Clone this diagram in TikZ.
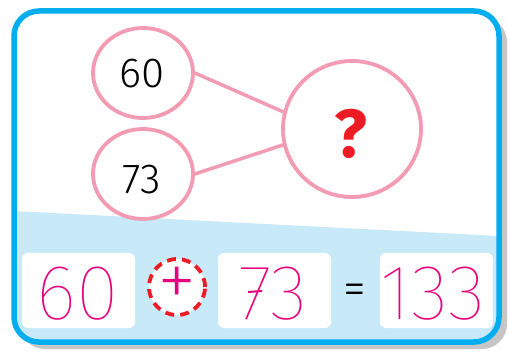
\documentclass[tikz,border=0pt]{standalone}
\usepackage{fontspec}
\setmainfont{Fira Sans}
\newfontfamily\thinf{Fira Sans Thin}
\newfontfamily\xlightf{Fira Sans ExtraLight}
\newfontfamily\lightf{Fira Sans Light}
\newfontfamily\boldf{Fira Sans Bold}
\usetikzlibrary{shapes.geometric}
\definecolor{frameblue}{HTML}{00AEEF}
\definecolor{lightbg}{HTML}{C8E9F8}
\definecolor{pinkc}{HTML}{F39BB3}
\definecolor{magentac}{HTML}{E5007D}
\definecolor{redc}{HTML}{ED1C24}
\definecolor{shadowc}{HTML}{C6C6C6}
\tikzset{
  bubble/.style={draw=pinkc, line width=3.8pt, ellipse, inner sep=0pt},
  link/.style={draw=pinkc, line width=3.5pt, line cap=round},
  numbox/.style={fill=white, rounded corners=6pt},
  bignum/.style={text=magentac, font=\thinf\fontsize{78}{80}\selectfont, anchor=base, inner sep=0pt},
  smallnum/.style={text=black, font=\lightf\fontsize{42}{44}\selectfont, anchor=base, inner sep=0pt}
}
\begin{document}
\begin{tikzpicture}[x=1pt,y=-1pt]
\useasboundingbox (0,0) rectangle (508,352);
% shadow
\fill[shadowc, rounded corners=25pt] (20,17) rectangle (507,349);
\fill[white, rounded corners=25pt] (14,11) rectangle (499,342);
\begin{scope}
  \clip[rounded corners=25pt] (14,11) rectangle (499,342);
  \fill[lightbg] (0,210.3) -- (508,236.5) -- (508,352) -- (0,352) -- cycle;
\end{scope}
\draw[frameblue, line width=5.5pt, rounded corners=25pt] (14,11) rectangle (499,342);
% bubbles
\node[bubble, minimum width=100pt, minimum height=90pt] (a) at (143,73) {};
\node[bubble, minimum width=100pt, minimum height=90pt] (b) at (143,174) {};
\node[bubble, minimum width=138pt, minimum height=136pt] (q) at (352,129) {};
\node[smallnum] (ta) at (142,88) {60};
\node[smallnum] (tb) at (142,194) {73};
\node[text=redc, font=\boldf\fontsize{68}{70}\selectfont, anchor=base, inner sep=0pt] (tq) at (351,158) {?};
\draw[link] (a.east) -- (q.166);
\draw[link] (b.east) -- (q.193);
% boxes
\fill[numbox] (22,253) rectangle (135,328);
\fill[numbox] (218,253) rectangle (331,328);
\fill[numbox] (380,253) rectangle (493,328);
\node[bignum] (n1) at (78,319) {60};
\node[bignum] (n2) at (273,319) {73};
\node[bignum] (n3) at (433,319) {133};
\draw[magentac, line width=2pt] ([xshift=10pt,yshift=27pt]n2.base west) -- ++(14,-1);
% plus
\node[circle, draw=redc, fill=white, line width=3.8pt, dash pattern=on 9pt off 6pt, minimum size=56pt, inner sep=0pt] (op) at (177,287) {};
\node[text=magentac, font=\xlightf\fontsize{80}{82}\selectfont, inner sep=0pt] (plus) at (177,287) {+};
\node[text=black, font=\lightf\fontsize{46}{48}\selectfont, inner sep=0pt] (eq) at (355,294) {=};
\end{tikzpicture}
\end{document}
